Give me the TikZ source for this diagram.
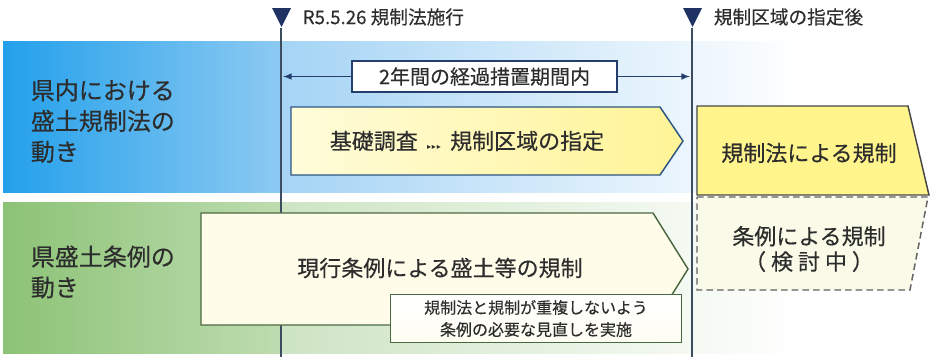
\documentclass[tikz,border=0pt]{standalone}
\usepackage{fontspec}
\setmainfont{Noto Sans CJK JP}[FakeBold=0.35]
\newfontfamily\symfont{DejaVu Sans}
\usetikzlibrary{positioning}
\definecolor{navyline}{RGB}{38,62,110}
\definecolor{marknavy}{RGB}{30,50,100}
\definecolor{gridline}{RGB}{62,76,96}
\definecolor{textgray}{RGB}{45,45,45}
\definecolor{bandblue}{RGB}{35,160,235}
\definecolor{bandblueend}{RGB}{140,202,242}
\definecolor{paleblue}{RGB}{165,212,245}
\definecolor{bandgreen}{RGB}{140,195,118}
\definecolor{bandgreenend}{RGB}{190,220,176}
\definecolor{palegreen}{RGB}{205,228,195}
\definecolor{creamlight}{RGB}{255,252,218}
\definecolor{creamdeep}{RGB}{255,244,150}
\definecolor{lawyellow}{RGB}{255,245,140}
\definecolor{ordfill}{RGB}{255,253,234}
\definecolor{pendfill}{RGB}{250,250,232}
\definecolor{borderblue}{RGB}{45,85,130}
\definecolor{bordergreen}{RGB}{75,105,65}
\definecolor{bordergray}{RGB}{70,70,70}

\begin{document}
\begin{tikzpicture}[x=0.75pt, y=-0.75pt, >=latex, semithick,
            title/.style ={anchor=west, align=left, text=textgray, font=\fontsize{18}{23}\selectfont},
            milestone/.style ={anchor=west, text=textgray, font=\fontsize{14}{16}\selectfont},
            boxtext/.style ={text=textgray, align=center, font=\fontsize{16.5}{19}\selectfont},
            periodbox/.style ={draw=navyline, line width=1pt, fill=white, text=textgray, inner sep=0pt,
            minimum width=198.75pt, minimum height=23.25pt, font=\fontsize{15}{18}\selectfont},
            notebox/.style ={draw=bordergreen, line width=1pt, top color=white, bottom color=ordfill!60!white,
            text=textgray, align=center, inner sep=0pt, minimum width=218pt, minimum height=36pt,
            font=\fontsize{12}{16.5}\selectfont},
            timeline/.style ={draw=gridline, line width=1.4pt},
            marker/.style ={fill=marknavy}]

        \useasboundingbox (0,0) rectangle (933,357);

        % bandas de fondo
        \shade[left color=bandblue, right color=bandblueend] (3,41) rectangle (281,192);
        \shade[left color=paleblue, right color=white] (281,41) rectangle (800,192);
        \shade[left color=bandgreen, right color=bandgreenend] (3,202) rectangle (281,353);
        \shade[left color=palegreen, right color=white] (281,202) rectangle (800,353);

        \node[title] (lawtitle) at (26,121) {県内における\\盛土規制法の\\動き};
        \node[title] (ordtitle) at (26,272) {県盛土条例の\\動き};

        \coordinate (top1) at (281,28);
        \coordinate (bot1) at (281,357);
        \coordinate (top2) at (692,28);
        \coordinate (bot2) at (692,357);
        \draw[timeline] (top1) -- (bot1);
        \draw[timeline] (top2) -- (bot2);

        \fill[marker] (272,8) -- (291,8) -- (281.5,27) -- cycle;
        \fill[marker] (683,8) -- (702,8) -- (692.5,27) -- cycle;
        \node[milestone] (enforce) at (298,17) {R5.5.26 規制法施行};
        \node[milestone] (designate) at (709,17) {規制区域の指定後};

        \node[periodbox] (period) at (484.5,76.5) {2年間の経過措置期間内};
        \coordinate (pl) at (283,76.5);
        \coordinate (pr) at (690,76.5);
        \draw[->, navyline, line width=1.2pt] (period.west) -- (pl);
        \draw[->, navyline, line width=1.2pt] (period.east) -- (pr);

        \shade[left color=creamlight, right color=creamdeep, draw=borderblue, line width=1.1pt]
            (291,107) -- (660,107) -- (683,141) -- (660,175) -- (291,175) -- cycle;
        \node[boxtext] (survey) at (467,141) {基礎調査\hspace{7pt}{\symfont\fontsize{6}{6}\selectfont ▸\hspace{0.6pt}▸\hspace{0.6pt}▸}\hspace{7pt}規制区域の指定};

        \draw[fill=lawyellow, draw=bordergray, line width=1.1pt]
            (697,106) -- (908,106) -- (929,195) -- (697,195) -- cycle;
        \node[boxtext] (lawrule) at (809,153) {規制法による規制};

        \draw[fill=pendfill, draw=bordergray!85, line width=1.1pt, dash pattern=on 5pt off 3pt]
            (697,197) -- (928,197) -- (910,290) -- (697,290) -- cycle;
        \node[boxtext] (ordrule) at (809,249) {条例による規制\\{（ 検 討 中 ）}};

        \draw[fill=ordfill, draw=bordergreen, line width=1.1pt]
            (201,213) -- (653,213) -- (688,269) -- (653,325) -- (201,325) -- cycle;
        \node[boxtext] (current) at (440,268) {現行条例による盛土等の規制};

        \node[notebox] (review) at (536,318.5) {規制法と規制が重複しないよう\\条例の必要な見直しを実施};
    \end{tikzpicture}
\end{document}
